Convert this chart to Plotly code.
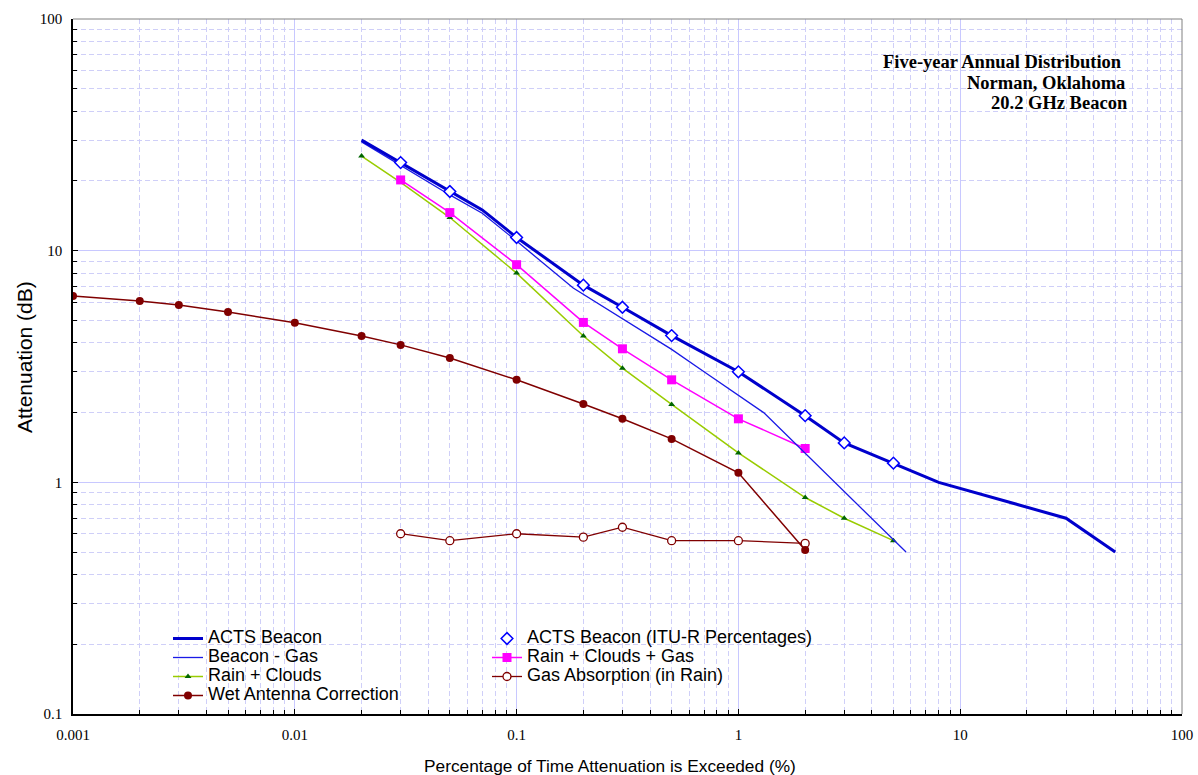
import plotly.graph_objects as go

# ---------------- data ----------------
acts_x = [0.02, 0.03, 0.05, 0.07, 0.1, 0.2, 0.3, 0.5, 1, 2, 3, 5, 8, 30, 50]
acts_y = [30, 24, 18, 15, 11.4, 7.1, 5.7, 4.3, 3.0, 1.94, 1.48, 1.21, 1.0, 0.70, 0.50]

itu_x = [0.03, 0.05, 0.1, 0.2, 0.3, 0.5, 1, 2, 3, 5]
itu_y = [24, 18, 11.4, 7.1, 5.7, 4.3, 3.0, 1.94, 1.48, 1.21]

bg_x = [0.02, 0.03, 0.05, 0.07, 0.1, 0.18, 0.3, 0.5, 0.7, 1.3, 5.7]
bg_y = [29.5, 23.3, 17.4, 14.5, 11.0, 6.9, 5.1, 3.75, 3.0, 2.0, 0.5]

rcg_x = [0.03, 0.05, 0.1, 0.2, 0.3, 0.5, 1, 2]
rcg_y = [20.2, 14.6, 8.7, 4.9, 3.77, 2.77, 1.88, 1.40]

rc_x = [0.02, 0.03, 0.05, 0.1, 0.2, 0.3, 0.5, 1, 2, 3, 5]
rc_y = [25.6, 19.7, 13.9, 8.0, 4.28, 3.11, 2.17, 1.34, 0.86, 0.70, 0.56]

wet_x = [0.001, 0.002, 0.003, 0.005, 0.01, 0.02, 0.03, 0.05, 0.1, 0.2, 0.3, 0.5, 1, 2]
wet_y = [6.37, 6.07, 5.83, 5.44, 4.88, 4.28, 3.92, 3.44, 2.77, 2.18, 1.88, 1.54, 1.10, 0.51]

gas_x = [0.03, 0.05, 0.1, 0.2, 0.3, 0.5, 1, 2]
gas_y = [0.60, 0.56, 0.60, 0.58, 0.64, 0.56, 0.56, 0.545]

x_ticks = [0.001, 0.01, 0.1, 1, 10, 100]
x_ticktext = ["0.001", "0.01", "0.1", "1", "10", "100"]
y_ticks = [0.1, 1, 10, 100]
y_ticktext = ["0.1", "1", "10", "100"]

# --------------- figure ---------------
W, H = 1198, 775
ML, MR, MT, MB = 73, 16, 19, 61
PW, PH = W - ML - MR, H - MT - MB


def px_x(p):
    return (p - ML) / PW


def px_y(p):
    return (H - MB - p) / PH


def lg(name):
    # legend label drawn at a larger size than the (compact) legend row height
    return '<span style="font-size:18px">' + name + "</span>"


fig = go.Figure()

fig.add_trace(go.Scatter(
    x=gas_x, y=gas_y, name=lg("Gas Absorption (in Rain)"), mode="lines+markers",
    line=dict(color="#800000", width=1.3),
    marker=dict(symbol="circle", size=8, color="white", line=dict(color="#800000", width=1.3)),
    legend="legend2", legendrank=3))

fig.add_trace(go.Scatter(
    x=wet_x, y=wet_y, name=lg("Wet Antenna Correction"), mode="lines+markers",
    line=dict(color="#800000", width=1.5),
    marker=dict(symbol="circle", size=8, color="#800000"),
    legend="legend", legendrank=4))

fig.add_trace(go.Scatter(
    x=rc_x, y=rc_y, name=lg("Rain + Clouds"), mode="lines+markers",
    line=dict(color="#99cc00", width=1.5),
    marker=dict(symbol="triangle-up", size=6, color="#006600"),
    legend="legend", legendrank=3))

fig.add_trace(go.Scatter(
    x=rcg_x, y=rcg_y, name=lg("Rain + Clouds + Gas"), mode="lines+markers",
    line=dict(color="#ff00ff", width=1.5),
    marker=dict(symbol="square", size=9, color="#ff00ff"),
    legend="legend2", legendrank=2))

fig.add_trace(go.Scatter(
    x=bg_x, y=bg_y, name=lg("Beacon - Gas"), mode="lines",
    line=dict(color="#1a1ae6", width=1.3),
    legend="legend", legendrank=2))

fig.add_trace(go.Scatter(
    x=acts_x, y=acts_y, name=lg("ACTS Beacon"), mode="lines",
    line=dict(color="#0000cc", width=3),
    legend="legend", legendrank=1))

fig.add_trace(go.Scatter(
    x=itu_x, y=itu_y, name=lg("ACTS Beacon (ITU-R Percentages)"), mode="markers",
    marker=dict(symbol="diamond", size=9, color="white", line=dict(color="#0000ff", width=1.5)),
    legend="legend2", legendrank=1))


def decade_minors(lo, hi):
    vals = []
    for e in range(lo, hi):
        for m in range(2, 10):
            vals.append(m * 10 ** e)
    return vals


grid_major = "#c8c8ff"
grid_minor = "#cfcff8"

axis_common = dict(
    type="log",
    automargin=False,
    showline=True, linecolor="black", linewidth=1.5,
    ticks="inside", ticklen=5, tickcolor="black", tickwidth=1,
    showgrid=True, gridcolor=grid_major, gridwidth=1,
    zeroline=False,
    tickfont=dict(family="Liberation Serif", size=15, color="black"),
    tickmode="array",
)

fig.update_xaxes(
    **axis_common,
    range=[-3, 2],
    tickvals=x_ticks, ticktext=x_ticktext,
    ticklabelstandoff=6,
    minor=dict(tickmode="array", tickvals=decade_minors(-3, 2), ticks="inside", ticklen=4,
               tickcolor="black", showgrid=True, gridcolor=grid_minor, griddash="5px,3px", gridwidth=1),
)
fig.update_yaxes(
    **axis_common,
    range=[-1, 2],
    tickvals=y_ticks, ticktext=y_ticktext,
    ticklabelstandoff=6,
    minor=dict(tickmode="array", tickvals=decade_minors(-1, 2), ticks="inside", ticklen=4,
               tickcolor="black", showgrid=True, gridcolor=grid_minor, griddash="5px,3px", gridwidth=1),
)

legend_common = dict(
    bgcolor="rgba(0,0,0,0)", borderwidth=0,
    font=dict(family="Liberation Sans", size=12, color="black"),
    xanchor="left", yanchor="top", orientation="v",
    tracegroupgap=0,
)

fig.update_layout(
    width=W, height=H,
    autosize=False,
    margin=dict(l=ML, r=MR, t=MT, b=MB, autoexpand=False),
    paper_bgcolor="white", plot_bgcolor="white",
    showlegend=True,
    legend=dict(**legend_common, x=px_x(168), y=px_y(624)),
    legend2=dict(**legend_common, x=px_x(487), y=px_y(624)),
    shapes=[
        # white boxes behind legend and caption
        dict(type="rect", xref="paper", yref="paper", x0=px_x(166), x1=px_x(818),
             y0=px_y(704), y1=px_y(625), fillcolor="white", line=dict(width=0), layer="between"),
        dict(type="rect", xref="paper", yref="paper", x0=px_x(873), x1=px_x(1134),
             y0=px_y(120), y1=px_y(47), fillcolor="white", line=dict(width=0), layer="between"),
        # gray top/right frame
        dict(type="line", xref="paper", yref="paper", x0=0, x1=1, y0=1, y1=1,
             line=dict(color="#808080", width=1), layer="above"),
        dict(type="line", xref="paper", yref="paper", x0=1, x1=1, y0=0, y1=1,
             line=dict(color="#808080", width=1), layer="above"),
    ],
    annotations=[
        dict(text="<b>Five-year Annual Distribution</b>", xref="paper", yref="paper",
             x=px_x(1124), y=px_y(62), xanchor="right", yanchor="middle", showarrow=False,
             font=dict(family="Liberation Serif", size=18.5, color="black")),
        dict(text="<b>Norman, Oklahoma</b>", xref="paper", yref="paper",
             x=px_x(1127), y=px_y(83), xanchor="right", yanchor="middle", showarrow=False,
             font=dict(family="Liberation Serif", size=18.5, color="black")),
        dict(text="<b>20.2 GHz Beacon</b>", xref="paper", yref="paper",
             x=px_x(1130), y=px_y(103), xanchor="right", yanchor="middle", showarrow=False,
             font=dict(family="Liberation Serif", size=18.5, color="black")),
        dict(text="Attenuation (dB)", xref="paper", yref="paper",
             x=px_x(24), y=px_y(357), xanchor="center", yanchor="middle", textangle=-90,
             showarrow=False, font=dict(family="Liberation Sans", size=21, color="black")),
        dict(text="Percentage of Time Attenuation is Exceeded (%)", xref="paper", yref="paper",
             x=px_x(610), y=px_y(766), xanchor="center", yanchor="middle",
             showarrow=False, font=dict(family="Liberation Sans", size=17.3, color="black")),
    ],
)

fig.write_html("out.html", config={"displayModeBar": False, "responsive": False})

# remove the default page margin so the figure sits at the window's top-left corner
with open("out.html", "r", encoding="utf-8") as f:
    html = f.read()
html = html.replace("<head>", "<head><style>html,body{margin:0;padding:0;overflow:hidden;}</style>", 1)
with open("out.html", "w", encoding="utf-8") as f:
    f.write(html)
